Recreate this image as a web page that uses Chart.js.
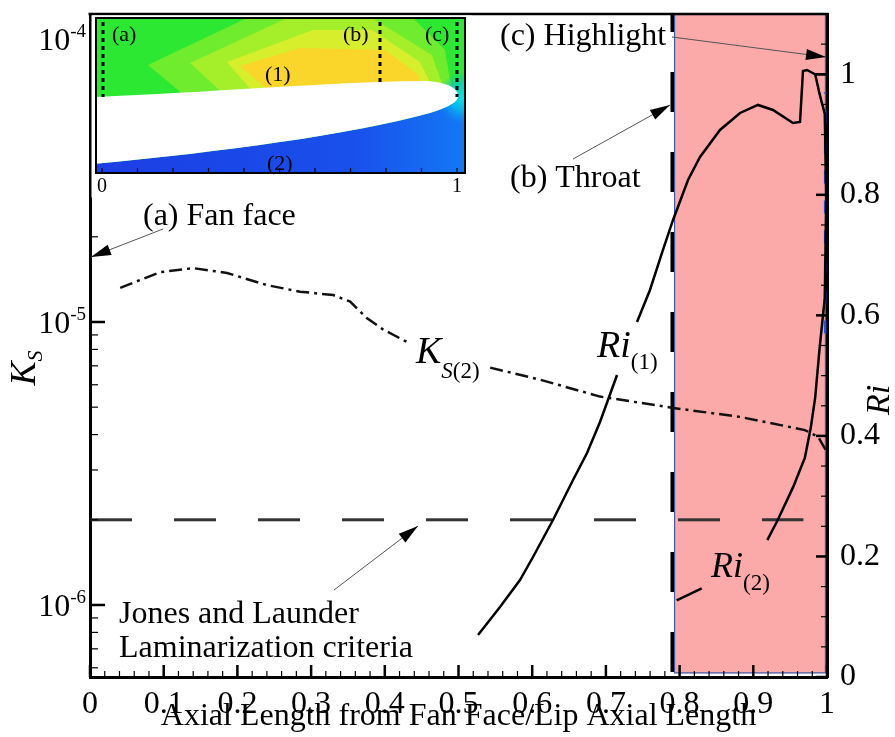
<!DOCTYPE html>
<html><head><meta charset="utf-8">
<script src="https://cdn.jsdelivr.net/npm/chart.js@4.4.1/dist/chart.umd.min.js"></script>
<style>html,body{margin:0;padding:0;background:#fff;}canvas{display:block;}</style>
</head><body>
<canvas id="c" width="895" height="737"></canvas>
<script>
// ---------- data ----------
const xTickValues = [0,0.1,0.2,0.3,0.4,0.5,0.6,0.7,0.8,0.9,1];
const riTickValues = [0,0.2,0.4,0.6,0.8,1];
const ksDecadeTicks = [1e-6,1e-5,1e-4];
const ksDecadeExp = ['-6','-5','-4'];

// K_S(2) (dash-dot), null = gap behind label
const ks2X = [0.041,0.095,0.14,0.186,0.24,0.285,0.33,0.353,0.376,0.398,0.43,0.48,0.543,0.611,0.692,0.791,0.882,0.970,0.988,0.999];
const ks2Y = [1.32e-5,1.50e-5,1.55e-5,1.49e-5,1.35e-5,1.28e-5,1.245e-5,1.18e-5,1.03e-5,9.4e-6,8.5e-6,null,6.9e-6,6.25e-6,5.45e-6,4.97e-6,4.62e-6,4.15e-6,3.93e-6,3.5e-6];

// Ri(1)
const ri1X = [0.5265,0.5563,0.5834,0.6011,0.6282,0.6554,0.6744,0.6920,0.7151,0.728,0.7422,0.7598,0.7761,0.7911,0.8114,0.8277,0.8548,0.8820,0.9064,0.9267,0.9539,0.9634,0.9674,0.9729,0.9837,1.0];
const ri1Y = [0.0697,0.1161,0.1609,0.1991,0.2605,0.3269,0.3717,0.4231,0.5011,null,0.5890,0.6421,0.7035,0.7583,0.8246,0.8628,0.9076,0.9358,0.9491,0.9408,0.9192,0.9209,1.0055,1.0071,1.0,1.0];

// Ri(2)
const ri2X = [0.796,0.830,0.87,0.919,0.933,0.954,0.970,0.978,0.984,0.990,0.997,0.999,0.997,0.990,0.984];
const ri2Y = [0.127,0.147,null,0.227,0.260,0.315,0.364,0.414,0.464,0.546,0.629,0.790,0.934,0.967,1.0];

// Jones & Launder laminarization criterion
const criterionX = [0,0.968];
const criterionKs = [2e-6,2e-6];

// throat marker line, highlight marker line
const throatX = [0.79,0.79];
const throatRi = [0,1.1];
const highlightX = [0.9975,0.9975];
const highlightRi = [0.57,0.97];

// shaded region (throat to highlight)
const shadeX = [0.7925,0.9985];
const shadeRi = [0.006,1.1];

const xTitle = 'Axial Length from Fan Face/Lip Axial Length';

// ---------- helpers ----------
const SERIF = '"Liberation Serif","Times New Roman",serif';
const zip = (xs, ys) => xs.map((x,i)=>({x, y: ys[i]}));

function arrow(ctx,x1,y1,x2,y2){
  ctx.save();
  ctx.strokeStyle='#555'; ctx.lineWidth=1;
  ctx.beginPath(); ctx.moveTo(x1,y1); ctx.lineTo(x2,y2); ctx.stroke();
  const a=Math.atan2(y2-y1,x2-x1), L=20, W=5.5;
  ctx.fillStyle='#000';
  ctx.beginPath(); ctx.moveTo(x2,y2);
  ctx.lineTo(x2-L*Math.cos(a)+W*Math.sin(a), y2-L*Math.sin(a)-W*Math.cos(a));
  ctx.lineTo(x2-L*Math.cos(a)-W*Math.sin(a), y2-L*Math.sin(a)+W*Math.cos(a));
  ctx.closePath(); ctx.fill();
  ctx.restore();
}
function rich(ctx, parts, x, y){
  let cx=x;
  for(const p of parts){ ctx.font=p.f; ctx.fillText(p.t, cx, y+(p.dy||0)); cx+=ctx.measureText(p.t).width; }
  return cx-x;
}
function richWidth(ctx, parts){ let w=0; for(const p of parts){ctx.font=p.f; w+=ctx.measureText(p.t).width;} return w; }
function poly(ctx, pts, color){
  ctx.beginPath(); ctx.moveTo(pts[0][0],pts[0][1]);
  for(let i=1;i<pts.length;i++) ctx.lineTo(pts[i][0],pts[i][1]);
  ctx.closePath(); ctx.fillStyle=color; ctx.fill();
}

function drawInset(ctx){
  const L=96,T=18,R=465,B=173;
  ctx.save();
  ctx.fillStyle='#fff'; ctx.fillRect(91.5,15.5,380,182);
  ctx.beginPath(); ctx.rect(L,T,R-L,B-T); ctx.clip();
  ctx.fillStyle='rgb(45,232,50)'; ctx.fillRect(L,T,R-L,B-T);
  poly(ctx,[[148,65],[247,18],[413,18],[445,50],[452,92],[190,100]],'rgb(110,236,45)');
  poly(ctx,[[190,63],[287,18],[372,18],[432,55],[445,92],[230,100]],'rgb(165,238,42)');
  poly(ctx,[[227,62],[313,30],[372,30],[420,62],[435,92],[260,100]],'rgb(215,238,45)');
  poly(ctx,[[240,66],[300,48],[385,50],[418,75],[425,92],[280,100]],'rgb(250,214,42)');
  const g=ctx.createLinearGradient(L,0,R,0);
  g.addColorStop(0,'rgb(28,62,228)'); g.addColorStop(0.7,'rgb(25,80,235)'); g.addColorStop(1,'rgb(20,120,245)');
  ctx.beginPath(); ctx.moveTo(458,98);
  ctx.bezierCurveTo(455,104,445,108,430,113);
  ctx.bezierCurveTo(350,135,220,152,L-2,164);
  ctx.lineTo(L-2,B+2); ctx.lineTo(R+2,B+2); ctx.lineTo(R+2,88); ctx.closePath();
  ctx.fillStyle=g; ctx.fill();
  const rg=ctx.createRadialGradient(463,98,0,463,98,26);
  rg.addColorStop(0,'rgba(0,235,225,1)'); rg.addColorStop(0.5,'rgba(0,200,235,0.7)'); rg.addColorStop(1,'rgba(0,160,240,0)');
  ctx.fillStyle=rg; ctx.fillRect(430,70,40,60);
  ctx.beginPath(); ctx.moveTo(L-2,97);
  ctx.bezierCurveTo(200,93,330,82,420,81);
  ctx.bezierCurveTo(450,81,460,90,458,98);
  ctx.bezierCurveTo(455,104,445,108,430,113);
  ctx.bezierCurveTo(350,135,220,152,L-2,164);
  ctx.closePath(); ctx.fillStyle='#fff'; ctx.fill();
  ctx.restore();
  ctx.save();
  ctx.strokeStyle='#000'; ctx.lineWidth=2; ctx.strokeRect(L,T,R-L,B-T);
  ctx.lineWidth=1.2;
  for(let i=0;i<=10;i++){ const px=102+i*35.5; ctx.beginPath(); ctx.moveTo(px,B); ctx.lineTo(px,B-5); ctx.stroke(); }
  ctx.lineWidth=3; ctx.setLineDash([4,4]);
  [[103,97],[380,82],[457,97]].forEach(([px,yb])=>{ctx.beginPath();ctx.moveTo(px,22);ctx.lineTo(px,yb);ctx.stroke();});
  ctx.setLineDash([]);
  ctx.fillStyle='#000'; ctx.textBaseline='alphabetic'; ctx.textAlign='left';
  ctx.font='22px '+SERIF;
  ctx.fillText('(a)',112,41); ctx.fillText('(b)',343,41); ctx.fillText('(c)',425,41);
  ctx.fillText('(1)',265,81); ctx.fillText('(2)',267,170);
  ctx.font='20px '+SERIF; ctx.textAlign='center';
  ctx.fillText('0',102,192); ctx.fillText('1',457,192);
  ctx.restore();
}

const decor = {
  id:'decor',
  beforeDatasetsDraw(chart){
    const {ctx, scales:{x,yRi}} = chart;
    const x0=x.getPixelForValue(shadeX[0]), x1=x.getPixelForValue(shadeX[1]);
    const y0=yRi.getPixelForValue(shadeRi[1]), y1=yRi.getPixelForValue(shadeRi[0]);
    ctx.save();
    ctx.fillStyle='#fcaaa9'; ctx.fillRect(x0,y0,x1-x0,y1-y0);
    ctx.strokeStyle='#3a5cb0'; ctx.lineWidth=1.2;
    ctx.strokeRect(x0+0.5,y0+0.5,x1-x0-1,y1-y0-1);
    ctx.restore();
  },
  afterDatasetsDraw(chart){
    const {ctx, chartArea:a, scales:{x,yK,yRi}} = chart;
    ctx.save();
    ctx.strokeStyle='#000';
    for(let i=0;i<=50;i++){
      const px=x.getPixelForValue(i/50), major=i%5===0;
      ctx.lineWidth=major?2.5:1.2;
      ctx.beginPath(); ctx.moveTo(px,a.bottom); ctx.lineTo(px,a.bottom-(major?12:6)); ctx.stroke();
    }
    for(let e=-7;e<=-4;e++) for(let m=1;m<=9;m++){
      const v=m*Math.pow(10,e);
      if(v<yK.min||v>yK.max) continue;
      const py=yK.getPixelForValue(v), major=m===1;
      ctx.lineWidth=major?2.5:1.2;
      ctx.beginPath(); ctx.moveTo(a.left,py); ctx.lineTo(a.left+(major?15:8),py); ctx.stroke();
    }
    for(let i=0;i<=22;i++){
      const py=yRi.getPixelForValue(i*0.05), major=i%4===0;
      ctx.lineWidth=major?2.5:1.2;
      ctx.beginPath(); ctx.moveTo(a.right,py); ctx.lineTo(a.right-(major?11:6),py); ctx.stroke();
    }
    ctx.lineWidth=2.5; ctx.beginPath(); ctx.moveTo(a.left-1.5,a.top); ctx.lineTo(a.right+1.5,a.top); ctx.stroke();
    ctx.restore();

    drawInset(ctx);

    ctx.save();
    ctx.fillStyle='#000'; ctx.textAlign='left'; ctx.textBaseline='alphabetic';
    ksDecadeTicks.forEach((v,i)=>{
      const py=yK.getPixelForValue(v);
      ctx.font='32px '+SERIF;
      const w10=ctx.measureText('10').width;
      ctx.font='19px '+SERIF;
      const we=ctx.measureText(ksDecadeExp[i]).width;
      const x0=86-w10-we;
      ctx.textBaseline='middle';
      ctx.font='32px '+SERIF; ctx.fillText('10',x0,py+3);
      ctx.font='19px '+SERIF; ctx.fillText(ksDecadeExp[i],x0+w10,py-7);
    });
    ctx.textBaseline='alphabetic';
    ctx.font='32px '+SERIF;
    ctx.fillText('(c) Highlight',500,45);
    ctx.fillText('(b) Throat',510,187);
    ctx.fillText('(a) Fan face',143,225);
    ctx.fillText('Jones and Launder',119,623);
    ctx.fillText('Laminarization criteria',119,657);
    arrow(ctx,672,37,826,57);
    arrow(ctx,573,159,670,105);
    arrow(ctx,163,229,91,257);
    arrow(ctx,334,590,418,526);
    const it=(s)=>'italic '+s+'px '+SERIF, up=(s)=>s+'px '+SERIF;
    rich(ctx,[{t:'K',f:it(38)},{t:'S',f:it(23),dy:15},{t:'(2)',f:up(23),dy:15}],416,363);
    rich(ctx,[{t:'Ri',f:it(38)},{t:'(1)',f:up(23),dy:12}],597,357);
    rich(ctx,[{t:'Ri',f:it(36)},{t:'(2)',f:up(23),dy:13}],711,577);
    ctx.save(); ctx.translate(35,368); ctx.rotate(-Math.PI/2); ctx.textBaseline='alphabetic';
    let parts=[{t:'K',f:it(36)},{t:'S',f:it(22),dy:7}];
    rich(ctx,parts,-richWidth(ctx,parts)/2,0);
    ctx.restore();
    ctx.save(); ctx.translate(889,400); ctx.rotate(-Math.PI/2);
    parts=[{t:'Ri',f:it(34)}];
    rich(ctx,parts,-richWidth(ctx,parts)/2,0);
    ctx.restore();
    ctx.restore();
  }
};

const tickFont = {family:SERIF, size:32};
new Chart(document.getElementById('c'), {
  type:'line',
  data:{datasets:[
    {label:'K_S(2)', data:zip(ks2X,ks2Y), yAxisID:'yK', borderColor:'#111', borderWidth:2.5, borderDash:[13,5,3,5], spanGaps:false},
    {label:'Ri(1)', data:zip(ri1X,ri1Y), yAxisID:'yRi', borderColor:'#000', borderWidth:2.5, spanGaps:false},
    {label:'Ri(2)', data:zip(ri2X,ri2Y), yAxisID:'yRi', borderColor:'#000', borderWidth:2.5, spanGaps:false},
    {label:'criterion', data:zip(criterionX,criterionKs), yAxisID:'yK', borderColor:'#333', borderWidth:3, borderDash:[42,42]},
    {label:'throat', data:zip(throatX,throatRi), yAxisID:'yRi', borderColor:'#000', borderWidth:3.5, borderDash:[40,40], borderDashOffset:75},
    {label:'highlight', data:zip(highlightX,highlightRi), yAxisID:'yRi', borderColor:'#2a4de0', borderWidth:2.5, borderDash:[13,17]}
  ]},
  options:{
    responsive:false, animation:false, devicePixelRatio:1,
    layout:{padding:{top:14,left:0,right:0,bottom:0}},
    plugins:{legend:{display:false}, tooltip:{enabled:false}},
    elements:{point:{radius:0}, line:{tension:0, fill:false}},
    scales:{
      x:{type:'linear', position:'bottom', min:0, max:1,
         grid:{display:false, drawTicks:false}, border:{display:true, color:'#000', width:3},
         ticks:{font:tickFont, color:'#000', padding:8, maxRotation:0, autoSkip:false, callback:v=>String(v)},
         afterBuildTicks:s=>{s.ticks=xTickValues.map(v=>({value:v}));},
         afterFit:s=>{s.height=60; s.paddingLeft=0; s.paddingRight=0;},
         title:{display:true, text:xTitle, font:tickFont, color:'#000', padding:{top:0,bottom:1}}},
      yK:{type:'logarithmic', position:'left', min:5.566e-7, max:1.2255e-4,
         grid:{display:false, drawTicks:false}, border:{display:true, color:'#000', width:3},
         ticks:{display:false},
         afterFit:s=>{s.width=90; s.paddingTop=0; s.paddingBottom=0;}},
      yRi:{type:'linear', position:'right', min:0, max:1.1,
         grid:{display:false, drawTicks:false}, border:{display:true, color:'#000', width:3},
         ticks:{font:tickFont, color:'#000', padding:13, callback:v=>String(v)},
         afterBuildTicks:s=>{s.ticks=riTickValues.map(v=>({value:v}));},
         afterFit:s=>{s.width=68; s.paddingTop=0; s.paddingBottom=0;}}
    }
  },
  plugins:[decor]
});
</script>
</body></html>
